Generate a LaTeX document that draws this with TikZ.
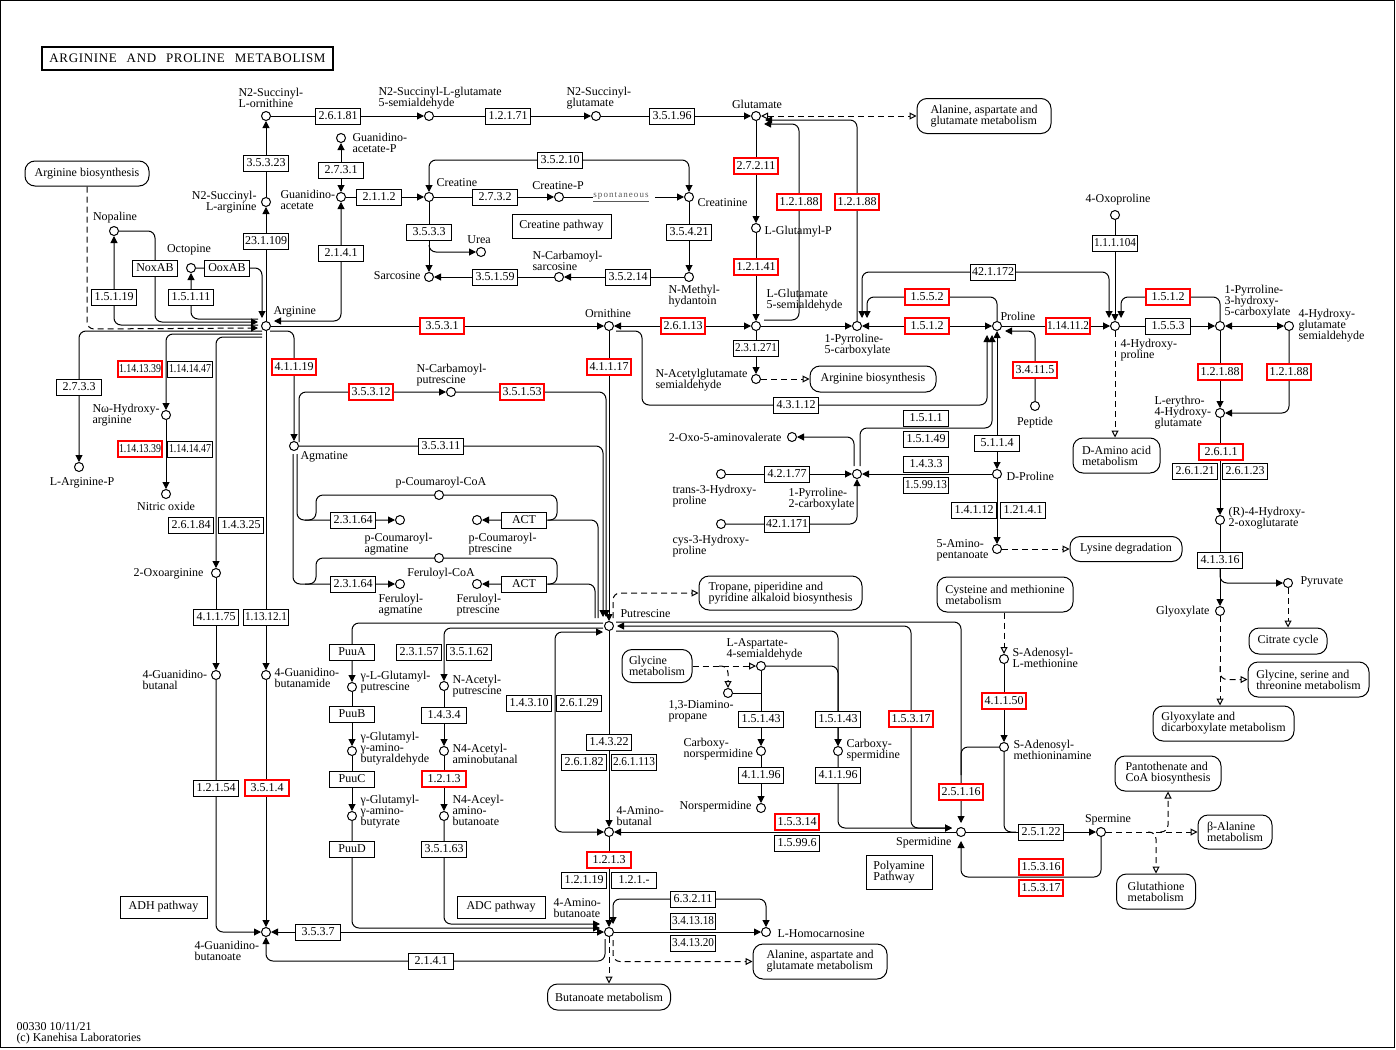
\documentclass[tikz,border=0pt]{standalone}
\usepackage{fontspec}
\setmainfont{Liberation Serif}
\usepackage{graphicx}
\usetikzlibrary{arrows.meta,calc}
\newsavebox\kecbox
\newcommand\ectext[1]{\sbox\kecbox{#1}\ifdim\wd\kecbox>42pt\resizebox{42pt}{\ht\kecbox}{\usebox\kecbox}\else\usebox\kecbox\fi}
\newcommand\kfs{\fontsize{12pt}{11pt}\selectfont}
\newcommand\kcp[3]{\node[cpd] (#1) at (#2,#3) {};}
\newcommand\kec[4]{\node[ec] (#1) at (#2,#3) {\ectext{#4}};}
\newcommand\kecr[4]{\node[ecred] (#1) at (#2,#3) {\ectext{#4}};}
\newcommand\klb[5]{\node[lbl,anchor=#2] (#1) at (#3,#4) {#5};}
\newcommand\klbr[5]{\node[lbl,align=right,anchor=#2] (#1) at (#3,#4) {#5};}
\newcommand\kmap[6]{\node[mapbox,minimum width=#4pt,minimum height=#5pt] (#1) at (#2,#3) {#6};}
\newcommand\krb[6]{\node[rbox,minimum width=#4pt,minimum height=#5pt] (#1) at (#2,#3) {#6};}
\begin{document}
\begin{tikzpicture}[x=1pt,y=-1pt,line width=1pt,font=\kfs,
 >={Triangle[length=7pt,width=7pt]},
 cpd/.style={circle,draw,fill=white,minimum size=9pt,inner sep=0pt,line width=1pt},
 ec/.style={draw,fill=white,minimum width=45pt,minimum height=16pt,inner sep=0pt,line width=1pt},
 ecred/.style={ec,draw=red,line width=2pt,minimum width=44pt,minimum height=16pt},
 lbl/.style={inner sep=0pt,align=left},
 mapbox/.style={draw,rounded corners=10pt,fill=white,align=left,inner sep=2pt},
 rbox/.style={draw,fill=white,align=left,inner sep=2pt},
 rc/.style={rounded corners=7pt},
 dsh/.style={dash pattern=on 6pt off 4pt},
 oarr/.style={-{Triangle[open,length=7pt,width=7pt]}},
 doarr/.style={{Triangle[open,length=7pt,width=7pt]}-{Triangle[open,length=7pt,width=7pt]}}]
\useasboundingbox (0,0) rectangle (1396,1049);
\fill[white] (0,0) rectangle (1396,1049);
\draw[line width=1.3pt] (0.8,0.8) rectangle (1394.8,1047.8);
\node[draw,line width=2pt,minimum width=291pt,minimum height=23pt,inner sep=0pt,font={\fontsize{13pt}{13pt}\selectfont\addfontfeature{LetterSpace=5}}] (title) at (187.5,58.5) {ARGININE\hspace{6pt} AND\hspace{6pt} PROLINE\hspace{6pt} METABOLISM};
% ---------- compounds
\kcp{sorn}{266}{116}\kcp{sgsa}{429}{116}\kcp{sglu}{596}{116}\kcp{glu}{756}{116}
\kcp{gap}{341}{138}\kcp{gaa}{341}{197}\kcp{sarg}{266}{202}\kcp{arg}{266}{326}
\kcp{crea}{429}{197}\kcp{creap}{559}{197}\kcp{crn}{689}{197}\kcp{urea}{481}{252}
\kcp{sarc}{429}{277}\kcp{ncs}{559}{277}\kcp{nmh}{689}{277}
\kcp{nop}{114}{231}\kcp{oct}{191}{268}
\kcp{orn}{609}{326}\kcp{glup}{756}{228}\kcp{gsa}{756}{326}\kcp{nags}{756}{379}
\kcp{p5c}{857}{326}\kcp{pro}{997}{326}
\kcp{hyp}{1115}{326}\kcp{oxop}{1115}{215}\kcp{p3h}{1220}{326}\kcp{hgs}{1289}{326}
\kcp{ehg}{1220}{413}\kcp{hog}{1220}{520}\kcp{pyr}{1288}{583}\kcp{glx}{1220}{611}
\kcp{pep}{1035}{406}\kcp{oxoav}{792}{437}\kcp{p2c}{857}{474}\kcp{t3h}{721}{474}
\kcp{c3h}{721}{524}\kcp{dpro}{997}{474}\kcp{apn}{997}{549}
\kcp{argp}{79}{467}\kcp{noh}{166}{415}\kcp{no}{166}{494}\kcp{oxoarg}{216}{573}
\kcp{gbal}{216}{675}\kcp{gbam}{266}{675}\kcp{gbo}{266}{932}
\kcp{agm}{294}{446}\kcp{ncp}{451}{392}\kcp{pcoa}{439}{495}\kcp{pcag}{400}{520}
\kcp{pcpt}{477}{520}\kcp{fcoa}{439}{558}\kcp{fag}{400}{584}\kcp{fpt}{477}{584}
\kcp{put}{609}{626}\kcp{glput}{352}{687}\kcp{gab}{352}{751}\kcp{gabb}{352}{816}
\kcp{acput}{444}{686}\kcp{aab}{444}{751}\kcp{aabo}{444}{816}
\kcp{abal}{609}{832}\kcp{gaba}{609}{932}\kcp{hcar}{766}{932}
\kcp{asa}{761}{666}\kcp{dap}{728}{693}\kcp{cns}{761}{751}\kcp{nspd}{761}{808}
\kcp{cspd}{838}{751}\kcp{spd}{961}{832}\kcp{sam}{1004}{659}\kcp{dsam}{1004}{747}
\kcp{spm}{1101}{832}
% ---------- map boxes
\kmap{ala1}{984}{116}{134}{35}{Alanine, aspartate and\\glutamate metabolism}
\kmap{argbio1}{87}{173.5}{124}{25}{Arginine biosynthesis}
\kmap{argbio2}{873}{379}{126}{26}{Arginine biosynthesis}
\kmap{damino}{1116.5}{455.5}{87}{35}{D-Amino acid\\metabolism}
\kmap{lys}{1126}{549}{112}{25}{Lysine degradation}
\kmap{tropane}{780.5}{593}{163}{34}{Tropane, piperidine and\\pyridine alkaloid biosynthesis}
\kmap{cysmet}{1005}{594.5}{136}{35}{Cysteine and methionine\\metabolism}
\kmap{citrate}{1288}{641}{78}{26}{Citrate cycle}
\kmap{glyser}{1308.5}{679.5}{121}{35}{Glycine, serine and\\threonine metabolism}
\kmap{glyoxy}{1223.5}{723.5}{141}{35}{Glyoxylate and\\dicarboxylate metabolism}
\kmap{glymet}{657}{666}{70}{33}{Glycine\\metabolism}
\kmap{panto}{1168}{773.5}{106}{35}{Pantothenate and\\CoA biosynthesis}
\kmap{bala}{1235}{832}{74}{34}{β-Alanine\\metabolism}
\kmap{gsh}{1156}{891.5}{79}{35}{Glutathione\\metabolism}
\kmap{ala2}{820}{961.5}{134}{35}{Alanine, aspartate and\\glutamate metabolism}
\kmap{butan}{609}{997}{123}{26}{Butanoate metabolism}
\krb{crpath}{561.5}{226}{99}{24}{Creatine pathway}
\krb{adh}{163.5}{907}{87}{22}{ADH pathway}
\krb{adc}{501}{907}{88}{22}{ADC pathway}
\krb{polyam}{899}{872}{66}{34}{Polyamine\\Pathway}
\node[inner sep=0pt,text=black!65,font={\fontsize{9pt}{9pt}\selectfont\addfontfeature{LetterSpace=12}}] (spont) at (621,197) {\underline{spontaneous}};
% ---------- connectors: top
\draw[->] (sorn) -- (sgsa);
\draw[->] (sgsa) -- (sglu);
\draw[->] (sglu) -- (glu);
\draw[dsh,doarr] (glu) -- (ala1);
\draw[->] (arg) -- (sarg);
\draw[->] (sarg) -- (sorn);
\draw[<->] (gap) -- (gaa);
\draw[<->,rc] (gaa) |- ($(arg)+(8,-5)$);
\draw[->] (gaa) -- (crea);
\draw[->] (crea) -- (creap);
\draw (creap) -- (spont.west);
\draw[->] ($(spont.east)+(6,0)$) -- (crn);
\draw[<->,rc] (crea) -- (429,160) -- (689,160) -- (crn);
\draw[->] (crea) -- (sarc);
\draw[->,rc] (429,245) |- (urea);
\draw[->] (crn) -- (nmh);
\draw[->] (nmh) -- (ncs);
\draw[->] (ncs) -- (sarc);
% arginine left
\draw[dsh,->,rc] (argbio1) -- (87,329) -- ($(arg)+(-8,2)$);
\draw[->,rc] ($(arg)+(-8,-1)$) -| (nop);
\draw[->,rc] (nop) -| (155,322) -- ($(arg)+(-8,-4)$);
\draw[->,rc] ($(arg)+(-8,-7)$) -| (oct);
\draw[->,rc] (oct) -| ($(arg)+(-4,-8)$);
% arginine down
\draw[->,rc] ($(arg)+(-4,5)$) -| (argp);
\draw[->,rc] ($(arg)+(-4,8)$) -| (noh);
\draw[->,rc] ($(arg)+(-4,11)$) -| (oxoarg);
\draw[->,rc] ($(arg)+(4,5)$) -| (agm);
\draw[->] (arg) -- (gbam);
\draw[->] (noh) -- (no);
\draw[->] (oxoarg) -- (gbal);
\draw[->,rc] (gbal) |- (gbo);
\draw[->] (gbam) -- (gbo);
\draw[<->] (gbo) -- (gaba);
\draw[->,rc] ($(gaba)+(-4,7)$) |- ($(gbo)+(0,29)$) -- (gbo);
% ornithine / glutamate
\draw[->] (arg) -- (orn);
\draw[<->] (orn) -- (gsa);
\draw[->] (orn) -- (put);
\draw[->,rc] ($(orn)+(7,5)$) -- (642,331) -- (642,405) -- (987,405) -- ($(pro)+(-10,9)$);
\draw[->] (glu) -- (glup);
\draw[->] (glup) -- (gsa);
\draw[->,rc] ($(gsa)+(8,-6)$) -- (799,320) -- (799,124) -- ($(glu)+(8,8)$);
\draw[->,rc] (p5c) -- (857,120) -- ($(glu)+(9,4)$);
\draw[->] (gsa) -- (p5c);
\draw[->] (gsa) -- (nags);
\draw[dsh,oarr] (nags) -- (argbio2);
\draw[<->] (p5c) -- (pro);
\draw[<->,rc] ($(hyp)+(-6,-8)$) -- (1109,272) -- (862,272) -- ($(p5c)+(5,-8)$);
\draw[->,rc] ($(pro)+(0,-5)$) -- (997,297) -- (867,297) -- ($(p5c)+(10,-8)$);
% proline side
\draw[->] (pro) -- (hyp);
\draw[->] (oxop) -- (hyp);
\draw[->] (hyp) -- (p3h);
\draw[->,rc] (p3h) -- (1220,297) -- (1121,297) -- ($(hyp)+(6,-8)$);
\draw[<->] (p3h) -- (hgs);
\draw[->] (p3h) -- (ehg);
\draw[->,rc] (hgs) |- (ehg);
\draw[->] (ehg) -- (hog);
\draw[->] (hog) -- (glx);
\draw[->,rc] ($(hog)+(0,49)$) |- (pyr);
\draw[dsh,oarr] (pyr) -- (citrate);
\draw[dsh,oarr] (glx) -- (glx |- glyoxy.north);
\draw[dsh,oarr,rc] ($(glx)+(0,55)$) |- (glyser);
\draw[dsh,oarr] (hyp) -- (hyp |- damino.north);
\draw[->,rc] (pep) |- ($(pro)+(8,5)$);
\draw[<->] (pro) -- (dpro);
\draw[->,rc] ($(p2c)+(-3,-8)$) |- (oxoav);
\draw[->,rc] ($(p2c)+(3,-8)$) |- (992,428) -- ($(pro)+(-5,9)$);
\draw[->] (t3h) -- (p2c);
\draw[->,rc] (c3h) -| (p2c);
\draw[->] (dpro) -- (p2c);
\draw[->] (dpro) -- (apn);
\draw[dsh,oarr] (apn) -- (lys);
% agmatine
\draw[->,rc] ($(agm)+(5,-4)$) |- (ncp);
\draw[->,rc] (ncp) -| ($(put)+(-3,-9)$);
\draw[->,rc] (agm) -| ($(put)+(-6,-9)$);
\draw[->,rc] ($(agm)+(3,8)$) |- (pcag);
\draw[->,rc] ($(agm)+(-1,8)$) |- (fag);
\draw[rc] (305,520) -- (316,520) -- (316,495) -- (pcoa);
\draw[rc] (pcoa) -- (557,495) -- (557,520) -- (548,520);
\draw[->,rc] ($(put)+(-11,-8)$) |- (pcpt);
\draw[rc] (305,584) -- (316,584) -- (316,558) -- (fcoa);
\draw[rc] (fcoa) -- (557,558) -- (557,584) -- (548,584);
\draw[->,rc] ($(put)+(-14,-8)$) |- (fpt);
% putrescine lower
\draw[->,rc] ($(put)+(-6,-3)$) -| (glput);
\draw[->,rc] ($(put)+(-6,2)$) -| (acput);
\draw[<->,rc] ($(put)+(-6,6)$) -- (555,632) -- (555,832) -- (abal);
\draw[->] (glput) -- (gab);
\draw[->] (gab) -- (gabb);
\draw[->,rc] (gabb) |- ($(gaba)+(-9,-4)$);
\draw[->] (acput) -- (aab);
\draw[->] (aab) -- (aabo);
\draw[->,rc] (aabo) |- ($(gaba)+(-9,-8)$);
\draw[->] (put) -- (abal);
\draw[->] (spd) -- (abal);
\draw[->] (abal) -- (gaba);
\draw[<->,rc] ($(gaba)+(4,-8)$) |- (766,899) -- (hcar);
\draw[->] (gaba) -- (hcar);
\draw[dsh,oarr] (gaba) -- (butan);
\draw[dsh,oarr,rc] ($(gaba)+(4,8)$) |- (ala2);
\draw[dsh,oarr,rc] ($(put)+(4,-8)$) |- (tropane);
% polyamines
\draw[->,rc] ($(put)+(7,-4)$) -- (961,622) -- ($(spd)+(0,-9)$);
\draw[<->,rc] ($(put)+(8,0)$) -- (911,626) -- (911,828) -- ($(spd)+(-9,-4)$);
\draw[->,rc] ($(put)+(7,5)$) -| (cspd);
\draw[->,rc] (asa) -| (cspd);
\draw[->] (asa) -- (cns);
\draw (dap) -- (asa |- dap);
\draw[->] (cns) -- (nspd);
\draw[->,rc] (cspd) |- ($(spd)+(-9,-4)$);
\draw[dsh,oarr] (glymet) -- (asa);
\draw[dsh,oarr,rc] (719,666) -| (dap);
\draw[dsh,oarr] (sam |- cysmet.south) -- (sam);
\draw[->] (sam) -- (dsam);
\draw[rc] (dsam) -- (961,747) -- (961,775);
\draw[rc] (dsam) -- (1004,832) -- (1016,832);
\draw[->] (spd) -- (spm);
\draw[->,rc] (spm) |- (961,877) -- ($(spd)+(0,9)$);
\draw[dsh,oarr] (spm) -- (bala);
\draw[dsh,oarr,rc] (1160,832) -| (panto);
\draw[dsh,oarr,rc] (1148,832) -| (gsh);
% ---------- enzymes
\kec{e1}{338}{116}{2.6.1.81}\kec{e2}{508}{116}{1.2.1.71}\kec{e3}{672}{116}{3.5.1.96}
\kec{e4}{266}{163}{3.5.3.23}\kec{e5}{266}{241}{23.1.109}\kec{e6}{341}{170}{2.7.3.1}
\kec{e7}{341}{253}{2.1.4.1}\kec{e8}{379}{197}{2.1.1.2}\kec{e9}{495}{197}{2.7.3.2}
\kec{e10}{560}{160}{3.5.2.10}\kec{e11}{429}{232}{3.5.3.3}\kec{e12}{495}{277}{3.5.1.59}
\kec{e13}{628}{277}{3.5.2.14}\kec{e14}{689}{232}{3.5.4.21}
\kec{e15}{114}{297}{1.5.1.19}\kec{e16}{155}{268}{NoxAB}\kec{e17}{191}{297}{1.5.1.11}\kec{e18}{227}{268}{OoxAB}
\kecr{e19}{442}{326}{3.5.3.1}\kecr{e20}{683}{326}{2.6.1.13}
\kecr{e21}{756}{166}{2.7.2.11}\kecr{e22}{756}{267}{1.2.1.41}\kecr{e23}{799}{202}{1.2.1.88}\kecr{e24}{857}{202}{1.2.1.88}
\kec{e25}{756}{348}{2.3.1.271}\kec{e26}{993}{272}{42.1.172}
\kecr{e27}{927}{297}{1.5.5.2}\kecr{e28}{927}{326}{1.5.1.2}\kecr{e29}{1068}{326}{1.14.11.2}
\kec{e30}{1115}{243}{1.1.1.104}\kecr{e31}{1168}{297}{1.5.1.2}\kec{e32}{1168}{326}{1.5.5.3}
\kecr{e33}{1220}{372}{1.2.1.88}\kecr{e34}{1289}{372}{1.2.1.88}\kecr{e35}{1221}{452}{2.6.1.1}
\kec{e36}{1195}{471}{2.6.1.21}\kec{e37}{1245}{471}{2.6.1.23}\kec{e38}{1220}{560}{4.1.3.16}
\kecr{e39}{1035}{370}{3.4.11.5}\kec{e40}{796}{405}{4.3.1.12}
\kec{e41}{926}{418}{1.5.1.1}\kec{e42}{926}{439}{1.5.1.49}\kec{e43}{997}{443}{5.1.1.4}
\kec{e44}{787}{474}{4.2.1.77}\kec{e45}{787}{524}{42.1.171}
\kec{e46}{926}{464}{1.4.3.3}\kec{e47}{926}{485}{1.5.99.13}
\kec{e48}{974}{510}{1.4.1.12}\kec{e49}{1023}{510}{1.21.4.1}
\kec{e50}{79}{387}{2.7.3.3}
\kecr{e51}{140}{369}{1.14.13.39}\kec{e52}{190}{369}{1.14.14.47}
\kecr{e53}{140}{449}{1.14.13.39}\kec{e54}{190}{449}{1.14.14.47}
\kec{e55}{191}{525}{2.6.1.84}\kec{e56}{241}{525}{1.4.3.25}
\kec{e57}{216}{617}{4.1.1.75}\kec{e58}{266}{617}{1.13.12.1}
\kec{e59}{216}{788}{1.2.1.54}\kecr{e60}{267}{788}{3.5.1.4}
\kec{e61}{318}{932}{3.5.3.7}\kec{e62}{431}{961}{2.1.4.1}
\kecr{e63}{294}{367}{4.1.1.19}\kecr{e64}{371}{392}{3.5.3.12}\kecr{e65}{522}{392}{3.5.1.53}
\kec{e66}{441}{446}{3.5.3.11}\kecr{e67}{609}{367}{4.1.1.17}
\kec{e68}{353}{520}{2.3.1.64}\kec{e69}{524}{520}{ACT}\kec{e70}{353}{584}{2.3.1.64}\kec{e71}{524}{584}{ACT}
\kec{e72}{352}{652}{PuuA}\kec{e73}{352}{714}{PuuB}\kec{e74}{352}{779}{PuuC}\kec{e75}{352}{849}{PuuD}
\kec{e76}{419}{652}{2.3.1.57}\kec{e77}{469}{652}{3.5.1.62}
\kec{e78}{444}{715}{1.4.3.4}\kecr{e79}{444}{779}{1.2.1.3}\kec{e80}{444}{849}{3.5.1.63}
\kec{e81}{529}{703}{1.4.3.10}\kec{e82}{579}{703}{2.6.1.29}
\kec{e83}{609}{742}{1.4.3.22}\kec{e84}{584}{762}{2.6.1.82}\kec{e85}{634}{762}{2.6.1.113}
\kecr{e86}{609}{860}{1.2.1.3}\kec{e87}{584}{880}{1.2.1.19}\kec{e88}{634}{880}{1.2.1.-}
\kec{e89}{693}{899}{6.3.2.11}\kec{e90}{693}{921}{3.4.13.18}\kec{e91}{693}{943}{3.4.13.20}
\kec{e92}{761}{719}{1.5.1.43}\kec{e93}{761}{775}{4.1.1.96}\kec{e94}{838}{719}{1.5.1.43}\kec{e95}{838}{775}{4.1.1.96}
\kecr{e96}{911}{719}{1.5.3.17}\kecr{e97}{1004}{701}{4.1.1.50}\kecr{e98}{961}{792}{2.5.1.16}
\kecr{e99}{797}{822}{1.5.3.14}\kec{e100}{797}{843}{1.5.99.6}
\kec{e101}{1041}{832}{2.5.1.22}\kecr{e102}{1041}{867}{1.5.3.16}\kecr{e103}{1041}{888}{1.5.3.17}
% ---------- labels
\klb{tsorn}{west}{238}{98}{N2-Succinyl-\\L-ornithine}
\klb{tsgsa}{west}{378}{98}{N2-Succinyl-L-glutamate\\5-semialdehyde}
\klb{tsglu}{west}{566}{98}{N2-Succinyl-\\glutamate}
\klb{tglu}{center}{757}{104}{Glutamate}
\klb{tgap}{west}{352}{143}{Guanidino-\\acetate-P}
\klb{tgaa}{west}{280}{200}{Guanidino-\\acetate}
\klbr{tsarg}{east}{257}{202}{N2-Succinyl-\\L-arginine}
\klb{tcrea}{west}{436}{183}{Creatine}
\klb{tcreap}{center}{558}{186}{Creatine-P}
\klb{tcrn}{west}{697}{203}{Creatinine}
\klb{turea}{center}{479}{240}{Urea}
\klb{tsarc}{east}{421}{276}{Sarcosine}
\klb{tncs}{west}{532}{261}{N-Carbamoyl-\\sarcosine}
\klb{tnmh}{west}{668}{296}{N-Methyl-\\hydantoin}
\klb{targ}{west}{273}{312}{Arginine}
\klb{tnop}{center}{115}{218}{Nopaline}
\klb{toct}{center}{189}{250}{Octopine}
\klb{torn}{center}{608}{313}{Ornithine}
\klb{tglup}{west}{764}{232}{L-Glutamyl-P}
\klb{tgsa}{west}{766}{300}{L-Glutamate\\5-semialdehyde}
\klb{tp5c}{west}{824}{345}{1-Pyrroline-\\5-carboxylate}
\klb{tpro}{west}{1000}{316}{Proline}
\klb{tnags}{west}{655}{380}{N-Acetylglutamate\\semialdehyde}
\klb{toxop}{center}{1118}{200}{4-Oxoproline}
\klb{thyp}{west}{1120}{350}{4-Hydroxy-\\proline}
\klb{tp3h}{west}{1224}{302}{1-Pyrroline-\\3-hydroxy-\\5-carboxylate}
\klb{thgs}{west}{1298}{326}{4-Hydroxy-\\glutamate\\semialdehyde}
\klb{tehg}{west}{1154}{413}{L-erythro-\\4-Hydroxy-\\glutamate}
\klb{thog}{west}{1228}{518}{(R)-4-Hydroxy-\\2-oxoglutarate}
\klb{tpyr}{west}{1300}{582}{Pyruvate}
\klb{tglx}{east}{1210}{612}{Glyoxylate}
\klb{tpep}{center}{1035}{423}{Peptide}
\klb{toxoav}{east}{782}{437}{2-Oxo-5-aminovalerate}
\klb{tp2c}{west}{788}{499}{1-Pyrroline-\\2-carboxylate}
\klb{tt3h}{west}{672}{496}{trans-3-Hydroxy-\\proline}
\klb{tc3h}{west}{672}{546}{cys-3-Hydroxy-\\proline}
\klb{tdpro}{west}{1006}{476}{D-Proline}
\klb{tapn}{west}{936}{550}{5-Amino-\\pentanoate}
\klb{tput}{west}{620}{614}{Putrescine}
\klb{tncp}{west}{416}{375}{N-Carbamoyl-\\putrescine}
\klb{tagm}{west}{300}{457}{Agmatine}
\klb{tpcoa}{center}{441}{483}{p-Coumaroyl-CoA}
\klb{tpcag}{west}{364}{544}{p-Coumaroyl-\\agmatine}
\klb{tpcpt}{west}{468}{544}{p-Coumaroyl-\\ptrescine}
\klb{tfcoa}{center}{441}{574}{Feruloyl-CoA}
\klb{tfag}{west}{378}{605}{Feruloyl-\\agmatine}
\klb{tfpt}{west}{456}{605}{Feruloyl-\\ptrescine}
\klb{tnoh}{west}{92}{415}{Nω-Hydroxy-\\arginine}
\klb{targp}{center}{82}{483}{L-Arginine-P}
\klb{tno}{center}{166}{506}{Nitric oxide}
\klb{toxoarg}{east}{204}{574}{2-Oxoarginine}
\klb{tgbal}{west}{142}{680}{4-Guanidino-\\butanal}
\klb{tgbam}{west}{274}{678}{4-Guanidino-\\butanamide}
\klb{tgbo}{west}{194}{951}{4-Guanidino-\\butanoate}
\klb{tglput}{west}{360}{682}{γ-L-Glutamyl-\\putrescine}
\klb{tacput}{west}{452}{686}{N-Acetyl-\\putrescine}
\klb{tgab}{west}{360}{749}{γ-Glutamyl-\\γ-amino-\\butyraldehyde}
\klb{taab}{west}{452}{754}{N4-Acetyl-\\aminobutanal}
\klb{tgabb}{west}{360}{812}{γ-Glutamyl-\\γ-amino-\\butyrate}
\klb{taabo}{west}{452}{810}{N4-Aceyl-\\amino-\\butanoate}
\klb{tabal}{west}{616}{816}{4-Amino-\\butanal}
\klb{tgaba}{west}{553}{908}{4-Amino-\\butanoate}
\klb{thcar}{west}{777}{934}{L-Homocarnosine}
\klb{tasa}{west}{726}{649}{L-Aspartate-\\4-semialdehyde}
\klb{tdap}{west}{668}{711}{1,3-Diamino-\\propane}
\klb{tcns}{west}{683}{749}{Carboxy-\\norspermidine}
\klb{tnspd}{east}{752}{807}{Norspermidine}
\klb{tcspd}{west}{846}{750}{Carboxy-\\spermidine}
\klb{tspd}{east}{952}{843}{Spermidine}
\klb{tsam}{west}{1012}{658}{S-Adenosyl-\\L-methionine}
\klb{tdsam}{west}{1013}{750}{S-Adenosyl-\\methioninamine}
\klb{tspm}{center}{1108}{820}{Spermine}
\klb{cpy1}{west}{16}{1027}{00330 10/11/21}
\klb{cpy2}{west}{16}{1039}{(c) Kanehisa Laboratories}
\end{tikzpicture}
\end{document}
